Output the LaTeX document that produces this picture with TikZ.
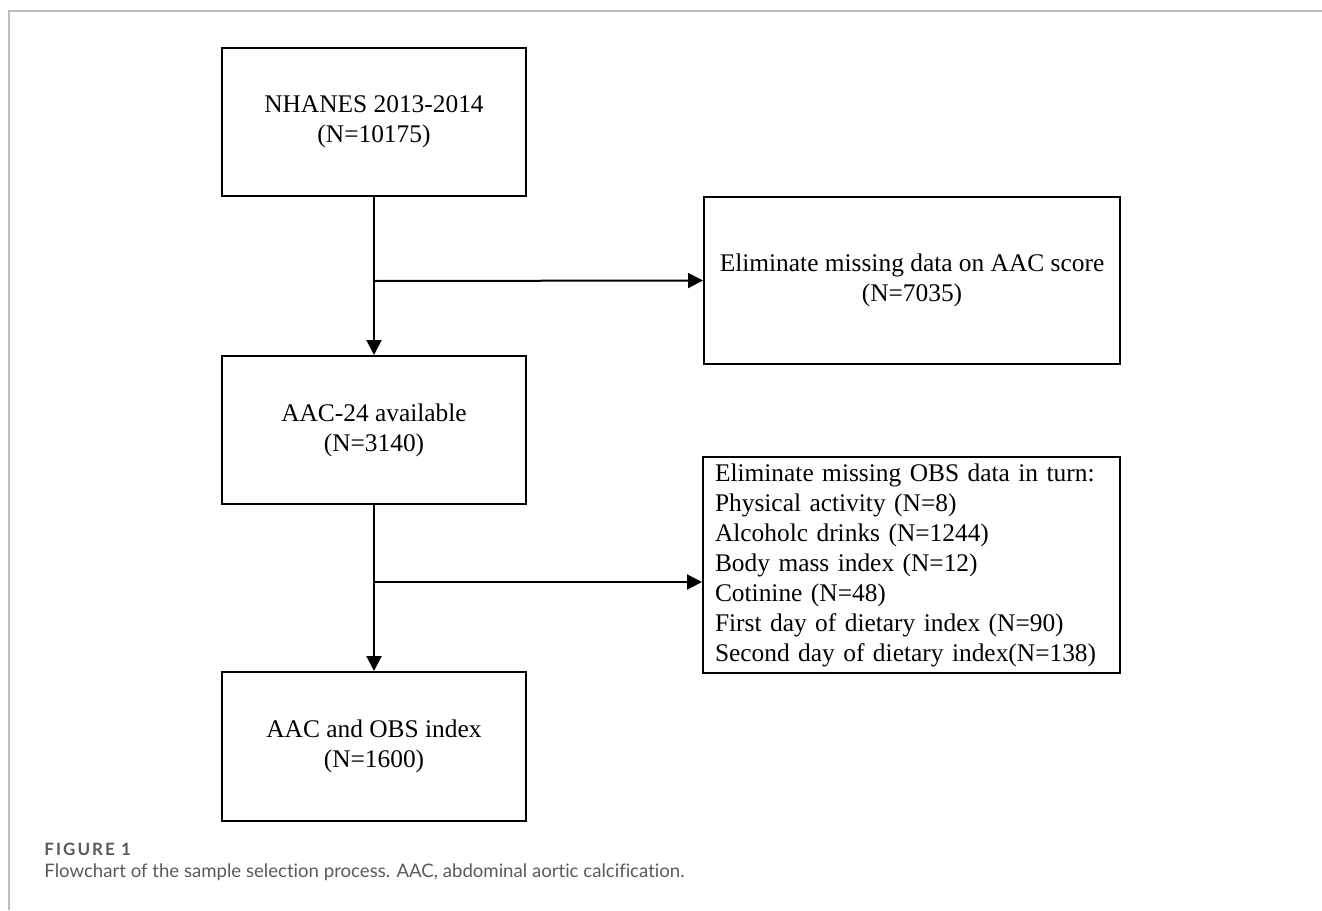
\documentclass[tikz,border=0pt]{standalone}
\usepackage{fontspec}
\setmainfont{Liberation Serif}
\newfontfamily\capfont[Ligatures=NoCommon]{Lato}
\newfontfamily\figfont[LetterSpace=12]{Lato}
\usepackage{xcolor}
\usetikzlibrary{arrows.meta}

\definecolor{framegray}{HTML}{BDBDBD}
\definecolor{capgray}{HTML}{5A5A5A}

\tikzset{
  flowbox/.style={draw=black, line width=1pt, inner sep=0pt, align=center,
    font=\fontsize{12.7}{15}\selectfont},
  flowarrow/.style={line width=1pt, -{Triangle[length=7.5pt,width=7.5pt]}}
}

\begin{document}
\begin{tikzpicture}[x=0.5pt,y=-0.5pt]
\useasboundingbox (0,0) rectangle (1322,910);
% panel frame
\draw [framegray, line width=1pt] (9,910) -- (9,11) -- (1322,11);
% boxes
\node [flowbox, minimum width=152pt, minimum height=74pt] (nhanes) at (374,122) {NHANES 2013-2014\\(N=10175)};
\node [flowbox, minimum width=208pt, minimum height=83.5pt] (aacmiss) at (912,280.5) {Eliminate missing data on AAC score\\(N=7035)};
\node [flowbox, minimum width=152pt, minimum height=74pt] (aac24) at (374,430) {AAC-24 available\\(N=3140)};
\node [flowbox, minimum width=208.5pt, minimum height=108pt, align=left, text width=196.5pt] (obsmiss) at (911.5,565) {Eliminate missing OBS data in turn:\\Physical activity (N=8)\\Alcoholc drinks (N=1244)\\Body mass index (N=12)\\Cotinine (N=48)\\First day of dietary index (N=90)\\Second day of dietary index(N=138)};
\node [flowbox, minimum width=152pt, minimum height=74.5pt] (final) at (374,746.5) {AAC and OBS index\\(N=1600)};
% branch points
\coordinate (split1) at (374,281);
\coordinate (split2) at (374,582);
% connectors
\draw [flowarrow] (nhanes.south) -- (aac24.north);
\draw [flowarrow] (split1) -- (aacmiss.west);
\draw [flowarrow] (aac24.south) -- (final.north);
\draw [flowarrow] (split2) -- (split2 -| obsmiss.west);
% caption
\node [anchor=west, inner sep=0pt, text=capgray, font=\figfont\bfseries\fontsize{8.5}{10}\selectfont] (figlabel) at (44,849) {FIGURE 1};
\node [anchor=west, inner sep=0pt, text=capgray, font=\capfont\fontsize{9.3}{11}\selectfont] (figcaption) at (44,872) {Flowchart of the sample selection process. AAC, abdominal aortic calcification.};
\end{tikzpicture}
\end{document}
